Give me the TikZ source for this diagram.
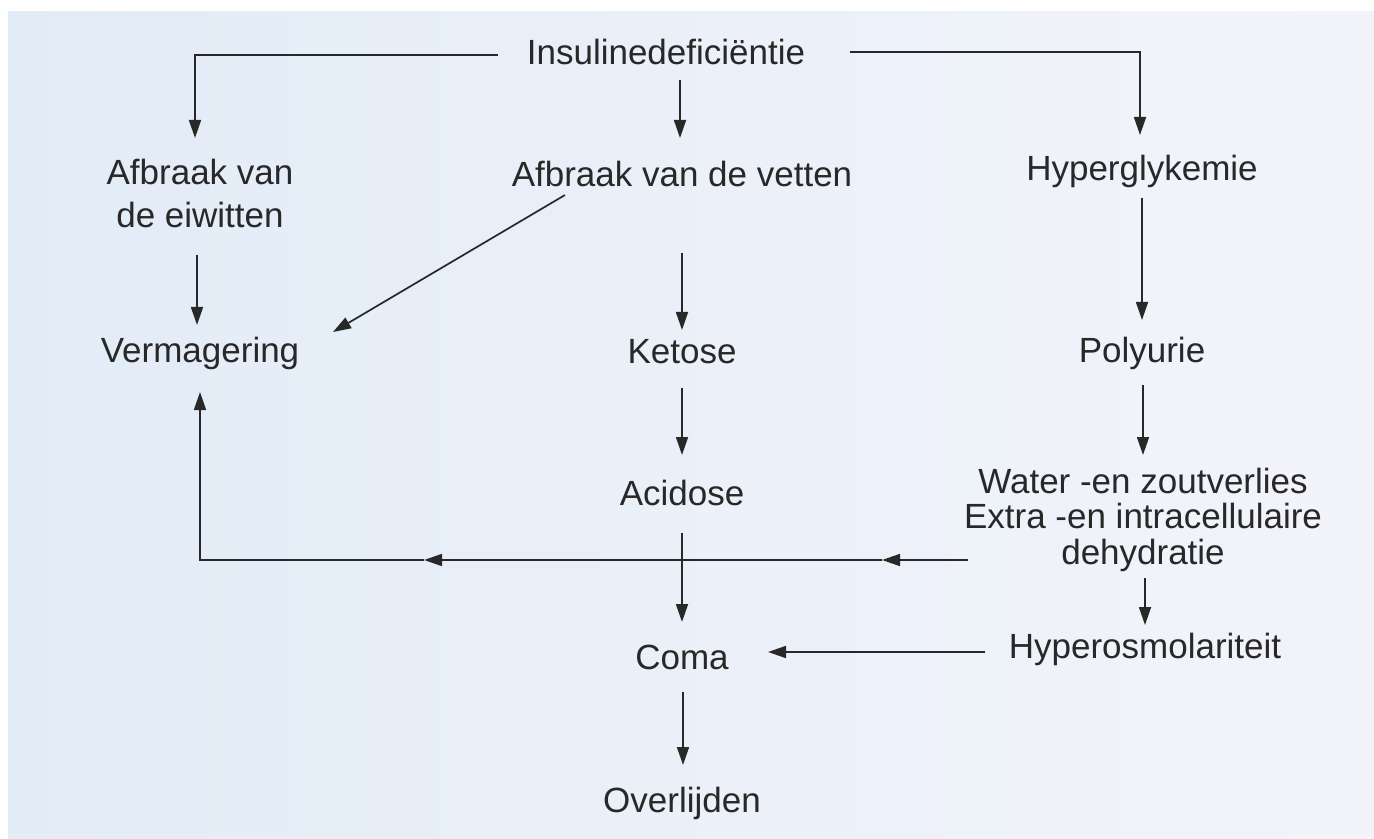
\documentclass[tikz,border=0pt]{standalone}
\usepackage{fontspec}
\setmainfont{Liberation Sans}
\usetikzlibrary{arrows.meta,calc}
\definecolor{ink}{RGB}{40,40,40}
\definecolor{lineink}{RGB}{40,40,40}
\definecolor{bgleft}{RGB}{226,236,247}
\definecolor{bgright}{RGB}{243,244,250}
\tikzset{
  lbl/.style={anchor=base,inner sep=0pt,text=ink,font=\fontsize{17.5pt}{17pt}\selectfont},
  arr/.style={draw=lineink,line width=0.85pt,-{Triangle[length=9pt,width=6pt]}},
  ln/.style={draw=lineink,line width=0.85pt}
}
\begin{document}
\begin{tikzpicture}[x=0.5pt,y=-0.5pt]
\useasboundingbox (0,0) rectangle (1374,839);
\fill[white] (0,0) rectangle (1374,839);
\shade[left color=bgleft,right color=bgright] (8,12) rectangle (1374,839);

% nodes
\node[lbl] (ins) at (666,65) {Insulinedeficiëntie};
\node[lbl] (eiw) at (200,185) {\fontsize{17.5pt}{21.5pt}\selectfont\renewcommand{\arraystretch}{1}\setlength{\tabcolsep}{0pt}\begin{tabular}[t]{c}Afbraak van\\de eiwitten\end{tabular}};
\node[lbl] (vet) at (682,187) {Afbraak van de vetten};
\node[lbl] (hyp) at (1142,181) {Hyperglykemie};
\node[lbl] (ver) at (200,362) {Vermagering};
\node[lbl] (ket) at (682,364) {Ketose};
\node[lbl] (pol) at (1142,362) {Polyurie};
\node[lbl] (aci) at (682,505) {Acidose};
\node[lbl] (wat) at (1143,493) {\renewcommand{\arraystretch}{1}\setlength{\tabcolsep}{0pt}\begin{tabular}[t]{c}Water -en zoutverlies\\Extra -en intracellulaire\\dehydratie\end{tabular}};
\node[lbl] (com) at (682,669) {Coma};
\node[lbl] (hos) at (1145,658) {Hyperosmolariteit};
\node[lbl] (ove) at (682,812) {Overlijden};

% connectors
\draw[arr] ($(ins.base)+(-168,-10)$) -| ($(eiw.base)+(-5,-47)$);
\draw[arr] ($(ins.base)+(14,15)$) -- ($(vet.base)+(-2,-49)$);
\draw[arr] ($(ins.base)+(184,-13)$) -| ($(hyp.base)+(-2,-46)$);
\draw[arr] ($(eiw.base)+(-3,70)$) -- ($(ver.base)+(-3,-37)$);
\draw[arr] ($(vet.base)+(-117,8)$) -- ($(ver.base)+(133,-30)$);
\draw[arr] ($(vet.base)+(0,66)$) -- ($(ket.base)+(0,-34)$);
\draw[arr] ($(hyp.base)+(0,17)$) -- ($(pol.base)+(0,-42)$);
\draw[arr] ($(ket.base)+(0,24)$) -- ($(aci.base)+(0,-50)$);
\draw[arr] ($(pol.base)+(1,23)$) -- ($(wat.base)+(0,-38)$);

\coordinate (w1) at ($(wat.base)+(-175,67)$);
\coordinate (m1) at ($(wat.base)+(-261,67)$);
\coordinate (m2) at ($(wat.base)+(-719,67)$);
\coordinate (vc) at ($(ver.base)+(0,198)$);
\draw[arr] (w1) -- (m1);
\draw[arr] (m1) -- (m2);
\draw[arr] (m2) -- (vc) -- ($(ver.base)+(0,30)$);

\draw[arr] ($(aci.base)+(0,28)$) -- ($(com.base)+(0,-47)$);
\draw[arr] ($(wat.base)+(2,85)$) -- ($(hos.base)+(0,-33)$);
\draw[arr] ($(hos.base)+(-160,-6)$) -- ($(com.base)+(86,-17)$);
\draw[arr] ($(com.base)+(1,23)$) -- ($(ove.base)+(1,-47)$);
\end{tikzpicture}
\end{document}
